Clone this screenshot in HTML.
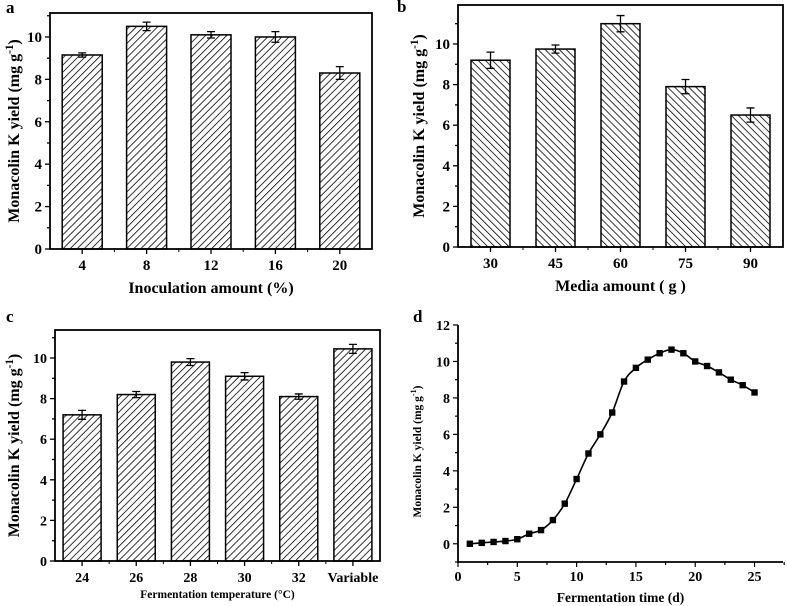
<!DOCTYPE html>
<html><head><meta charset="utf-8"><style>
body{margin:0;background:#fff}
svg{display:block;font-family:"Liberation Serif",serif;font-weight:bold}
</style></head><body>
<svg id="fig" width="787" height="606" viewBox="0 0 787 606" xmlns="http://www.w3.org/2000/svg">
<defs>
<pattern id="hatchF" patternUnits="userSpaceOnUse" width="5" height="5" patternTransform="rotate(45)"><rect width="5" height="5" fill="#fff"/><line x1="0" y1="0" x2="0" y2="5" stroke="#000" stroke-width="1.6"/></pattern>
<pattern id="hatchB" patternUnits="userSpaceOnUse" width="5" height="5" patternTransform="rotate(-45)"><rect width="5" height="5" fill="#fff"/><line x1="0" y1="0" x2="0" y2="5" stroke="#000" stroke-width="1.6"/></pattern>
</defs>
<g id="root"></g>
</svg>
<script>
// Panel a data
const catsA = ["4","8","12","16","20"];
const valsA = [9.15,10.5,10.1,10.0,8.3];
const errsA = [0.1,0.2,0.15,0.25,0.3];
// Panel b data
const catsB = ["30","45","60","75","90"];
const valsB = [9.2,9.75,11.0,7.9,6.5];
const errsB = [0.4,0.2,0.4,0.35,0.35];
// Panel c data
const catsC = ["24","26","28","30","32","Variable"];
const valsC = [7.2,8.2,9.8,9.1,8.1,10.45];
const errsC = [0.22,0.15,0.17,0.18,0.13,0.22];
// Panel d data
const daysD = [1,2,3,4,5,6,7,8,9,10,11,12,13,14,15,16,17,18,19,20,21,22,23,24,25];
const valsD = [0,0.05,0.1,0.15,0.25,0.55,0.75,1.3,2.2,3.55,4.95,6.0,7.2,8.9,9.65,10.1,10.45,10.65,10.45,10.0,9.75,9.4,9.0,8.7,8.3];
const ticksBar = [0,2,4,6,8,10];
const ticksDY = [0,2,4,6,8,10,12];
const ticksDX = [0,5,10,15,20,25];

const NS="http://www.w3.org/2000/svg";
const root=document.getElementById('root');
function mk(tag,attrs,parent){const e=document.createElementNS(NS,tag);for(const k in attrs)e.setAttribute(k,attrs[k]);(parent||root).appendChild(e);return e;}
function txt(s,x,y,size,anchor,parent){const t=mk('text',{x:x,y:y,'font-size':size,'text-anchor':anchor||'middle'},parent);t.textContent=s;return t;}

function barPanel(o){
  const g=mk('g',{});
  
  
  const y=v=>o.b-(v/o.ymax)*(o.b-o.t);
  const n=o.cats.length, step=(o.r-o.l)/n;
  const x=i=>o.l+step*(i+0.5);
  o.vals.forEach((v,i)=>{
    const bar=mk('rect',{x:x(i)-o.bw/2,y:y(v),width:o.bw,height:o.b-y(v),fill:`url(#${o.hatch})`,stroke:'#000','stroke-width':1.5},g);
    
    
    const e=o.errs[i];
    const eb=mk('path',{d:`M${x(i)},${y(v+e)}V${y(v-e)}M${x(i)-4},${y(v+e)}h8M${x(i)-4},${y(v-e)}h8`,stroke:'#000','stroke-width':1.3,fill:'none'},g);
    
    
    const lab=txt(o.cats[i],x(i),o.b+21,o.fs,'middle',g);
    
    
    mk('line',{x1:x(i),x2:x(i),y1:o.b,y2:o.b+5,stroke:'#000','stroke-width':1.3},g);
    if(i<n-1) mk('line',{x1:o.l+step*(i+1),x2:o.l+step*(i+1),y1:o.b,y2:o.b+3,stroke:'#000','stroke-width':1},g);
  });
  for(let v=0;v<=o.ymax;v+=1){
    const major=v%2===0;
    mk('line',{x1:o.l-(major?5:3),x2:o.l,y1:y(v),y2:y(v),stroke:'#000','stroke-width':1.3},g);
  }
  ticksBar.forEach(v=>{const t=txt(String(v),o.l-8,y(v)+5,o.fs,'end',g);});
  const frame=mk('rect',{x:o.l,y:o.t,width:o.r-o.l,height:o.b-o.t,fill:'none',stroke:'#000','stroke-width':1.8},g);
  
  
  const xt=txt(o.xtitle,(o.l+o.r)/2,o.xty,o.xfs,'middle',g);
  
  
  const yt=mk('text',{x:o.ytx,y:(o.t+o.b)/2,'font-size':o.yfs,'text-anchor':'middle',transform:`rotate(-90 ${o.ytx} ${(o.t+o.b)/2})`},g);
  yt.innerHTML='Monacolin K yield (mg g<tspan dy="-6" font-size="'+(o.yfs*0.7)+'">-1</tspan><tspan dy="6">)</tspan>';
  
  
  const pl=txt(o.letter,o.lx,o.ly,17,'start',g);
  
  
}

barPanel({name:'panel-a',cats:catsA,vals:valsA,errs:errsA,l:50,r:372,t:13,b:249,ymax:11.13,bw:40,hatch:'hatchF',fs:15,xtitle:'Inoculation amount (%)',xty:293,xfs:16,ytx:19,yfs:16,letter:'a',lx:6,ly:13});
barPanel({name:'panel-b',cats:catsB,vals:valsB,errs:errsB,l:458,r:783,t:5,b:247,ymax:11.92,bw:39,hatch:'hatchB',fs:15,xtitle:'Media amount ( g )',xty:291,xfs:16,ytx:424,yfs:16,letter:'b',lx:397,ly:12});
barPanel({name:'panel-c',cats:catsC,vals:valsC,errs:errsC,l:55,r:380,t:330,b:561,ymax:11.38,bw:38,hatch:'hatchF',fs:14,xtitle:'Fermentation temperature (°C)',xty:598,xfs:11.5,ytx:19,yfs:16,letter:'c',lx:6,ly:322});

(function(){
  const g=mk('g',{});
  
  
  const l=458,r=783,t=325,b=562,xmin=0,xmax=27.4,ymin=-1,ymax=12;
  const X=v=>l+(v-xmin)/(xmax-xmin)*(r-l);
  const Y=v=>b-(v-ymin)/(ymax-ymin)*(b-t);
  const P=daysD.map((d,i)=>[X(d),Y(valsD[i])]);
  let d=`M${P[0][0]},${P[0][1]}`;
  for(let i=0;i<P.length-1;i++){
    const p0=P[Math.max(0,i-1)],p1=P[i],p2=P[i+1],p3=P[Math.min(P.length-1,i+2)];
    d+=`C${p1[0]+(p2[0]-p0[0])/6},${p1[1]+(p2[1]-p0[1])/6} ${p2[0]-(p3[0]-p1[0])/6},${p2[1]-(p3[1]-p1[1])/6} ${p2[0]},${p2[1]}`;
  }
  const line=mk('path',{d:d,fill:'none',stroke:'#000','stroke-width':1.6},g);
  
  
  P.forEach(p=>{const m=mk('rect',{x:p[0]-3.2,y:p[1]-3.2,width:6.4,height:6.4,fill:'#000'},g);
    
    });
  for(let v=-1;v<=12;v++){const maj=v>=0&&v%2===0;mk('line',{x1:l-(maj?5:3),x2:l,y1:Y(v),y2:Y(v),stroke:'#000','stroke-width':1.2},g);}
  for(let v=0;v<=27.5;v+=2.5){const maj=v%5===0;mk('line',{x1:X(v),x2:X(v),y1:b,y2:b+(maj?5:3),stroke:'#000','stroke-width':1.2},g);}
  ticksDY.forEach(v=>{const t=txt(String(v),l-8,Y(v)+5,14,'end',g);});
  ticksDX.forEach(v=>{const t=txt(String(v),X(v),b+19,14,'middle',g);});
  const frame=mk('path',{d:`M${l},${t}V${b}H${r}`,fill:'none',stroke:'#000','stroke-width':1.8},g);
  
  
  const xt=txt('Fermentation time (d)',(l+r)/2,b+40,13.5,'middle',g);
  
  
  const ytx=421,yc=(t+b)/2+8;
  const yt=mk('text',{x:ytx,y:yc,'font-size':11.5,'text-anchor':'middle',transform:`rotate(-90 ${ytx} ${yc})`},g);
  yt.innerHTML='Monacolin K yield (mg g<tspan dy="-5" font-size="8">-1</tspan><tspan dy="5">)</tspan>';
  
  
  const pl=txt('d',413,322,17,'start',g);
  
  
})();
</script>
</body></html>
